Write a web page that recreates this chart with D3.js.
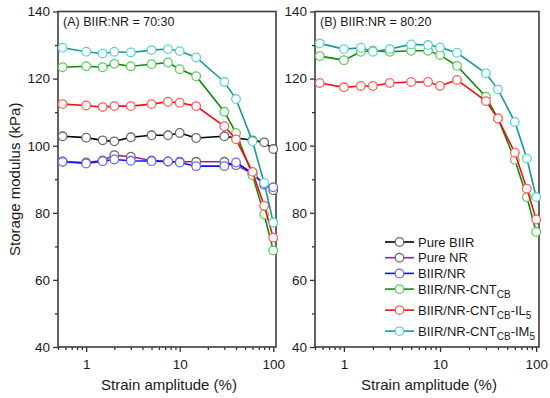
<!DOCTYPE html>
<html>
<head>
<meta charset="utf-8">
<script src="https://cdn.jsdelivr.net/npm/d3@7"></script>
<style>
  body { margin: 0; background: #fff; }
  svg { display: block; font-family: Arial, "Liberation Sans", sans-serif; }
</style>
</head>
<body>
<div id="chart"></div>
<script>
// strain amplitude (%) shared by every curve
const strain = [0.56, 1, 1.5, 2, 3, 5, 7.5, 10, 15, 30, 40, 60, 80, 100];

// (A) BIIR:NR = 70:30, storage modulus kPa
const aPureBIIR = [102.8, 102.4, 101.6, 101.3, 102.5, 103.1, 103.1, 103.8, 102.3, 102.8, null, 101.6, 101.0, 99.0];
const aPureNR = [95.3, 95.0, 95.6, 97.2, 96.7, 95.6, 95.3, 95.2, 95.2, 95.2, 94.2, 91.6, 88.4, 86.7];
const aBlend = [95.2, 94.7, 95.4, 95.9, 95.5, 95.4, 95.3, 95.0, 93.9, 93.9, 95.0, 91.8, 88.5, 87.6];
const aCB = [123.4, 123.7, 123.4, 124.4, 123.7, 124.3, 124.8, 122.8, 120.7, 110.1, 103.8, 91.2, 79.5, 68.8];
const aIL = [112.4, 112.0, 111.5, 111.8, 111.8, 112.4, 113.1, 112.8, 111.8, 105.8, 101.9, 92.2, 82.1, 72.6];
const aIM = [129.2, 128.0, 127.5, 128.0, 127.8, 128.5, 128.8, 128.2, 126.3, 119.0, 113.9, 101.3, 88.9, 77.1];

// (B) BIIR:NR = 80:20
const bCB = [126.7, 125.5, 128.0, 128.3, 128.0, 128.3, 128.3, 127.0, 123.8, 114.6, 108.1, 95.8, 84.7, 74.3];
const bIL = [118.7, 117.4, 117.8, 117.8, 118.7, 119.0, 119.0, 117.8, 119.6, 113.3, 108.1, 97.9, 87.2, 78.0];
const bIM = [130.5, 128.8, 129.2, 128.0, 128.8, 130.2, 130.0, 129.3, 127.7, 121.6, 116.8, 107.1, 96.2, 84.7];

const yMajor = [40, 60, 80, 100, 120, 140];
const yMinor = [50, 70, 90, 110, 130];
const xMajor = [1, 10, 100];

// legend: [main, sub, rest, sub]
const legendNames = [
  ["Pure BIIR"],
  ["Pure NR"],
  ["BIIR/NR"],
  ["BIIR/NR-CNT", "CB"],
  ["BIIR/NR-CNT", "CB", "-IL", "5"],
  ["BIIR/NR-CNT", "CB", "-IM", "5"]
];

const lineColor = ["#000000", "#a0209c", "#1010f0", "#108a10", "#f01010", "#1a9898"];
const markColor = ["#6a6a6a", "#6a6a6a", "#6a6aff", "#5ccc5c", "#ff6060", "#60d2d2"];

const panels = [
  { title: "(A) BIIR:NR = 70:30", x0: 58, x1: 276, series: [aPureBIIR, aPureNR, aBlend, aCB, aIL, aIM] },
  { title: "(B) BIIR:NR = 80:20", x0: 315, x1: 539, series: [null, null, null, bCB, bIL, bIM] }
];

const width = 550, height = 398;
const yTop = 11.5, yBottom = 347;

const svg = d3.select("#chart").append("svg")
  .attr("width", width).attr("height", height);

const y = d3.scaleLinear().domain([40, 140]).range([yBottom, yTop]);

let xMinor = [];
[0.1, 1, 10].forEach(p => { for (let k = 2; k <= 9; k++) xMinor.push(+(k * p).toFixed(2)); });
xMinor = xMinor.filter(v => v >= 0.5 && v <= 107 && !xMajor.includes(v));

panels.forEach((p, pi) => {
  const x = d3.scaleLog().domain([0.5, 107]).range([p.x0, p.x1]);
  const g = svg.append("g");

  // minor ticks
  g.append("g").attr("transform", `translate(${p.x0},0)`)
    .call(d3.axisLeft(y).tickValues(yMinor).tickSize(3).tickFormat(""))
    .call(a => a.select(".domain").remove());
  g.append("g").attr("transform", `translate(0,${yBottom})`)
    .call(d3.axisBottom(x).tickValues(xMinor).tickSize(3).tickFormat(""))
    .call(a => a.select(".domain").remove());

  const ya = g.append("g").attr("transform", `translate(${p.x0},0)`)
    .call(d3.axisLeft(y).tickValues(yMajor).tickSize(5).tickPadding(3))
    .call(a => a.select(".domain").remove());
  ya.selectAll("text").attr("font-size", 13.5).attr("fill", "#1a1a1a");

  const xa = g.append("g").attr("transform", `translate(0,${yBottom})`)
    .call(d3.axisBottom(x).tickValues(xMajor).tickFormat(d3.format("d")).tickSize(5).tickPadding(7))
    .call(a => a.select(".domain").remove());
  xa.selectAll("text").attr("font-size", 13.5).attr("fill", "#1a1a1a");

  svg.selectAll(".tick line").attr("stroke", "#333").attr("stroke-width", 1.3);

  // frame
  g.append("rect")
    .attr("x", p.x0).attr("y", yTop)
    .attr("width", p.x1 - p.x0).attr("height", yBottom - yTop)
    .attr("fill", "none").attr("stroke", "#3c3c3c").attr("stroke-width", 1.6);

  g.append("text").attr("x", p.x0 + 5).attr("y", yTop + 14)
    .attr("font-size", 12.5).attr("fill", "#1a1a1a").text(p.title);

  g.append("text").attr("x", (p.x0 + p.x1) / 2 + 2).attr("y", 390)
    .attr("text-anchor", "middle").attr("font-size", 15).attr("fill", "#1a1a1a")
    .text("Strain amplitude (%)");

  const line = d3.line()
    .defined(d => d[1] != null)
    .x(d => x(d[0])).y(d => y(d[1]));

  p.series.forEach((vals, si) => {
    if (!vals) return;
    const pts = strain.map((s, i) => [s, vals[i]]).filter(d => d[1] != null);
    g.append("path").datum(pts)
      .attr("d", line)
      .attr("fill", "none").attr("stroke", lineColor[si]).attr("stroke-width", 1.6);
    g.selectAll(null).data(pts).join("circle")
      .attr("cx", d => x(d[0])).attr("cy", d => y(d[1]))
      .attr("r", 4.3)
      .attr("fill", "#fff").attr("stroke", markColor[si]).attr("stroke-width", 1.3);
  });
});

svg.append("text")
  .attr("transform", `translate(20,${(yTop + yBottom) / 2}) rotate(-90)`)
  .attr("text-anchor", "middle").attr("font-size", 15).attr("fill", "#1a1a1a")
  .text("Storage modulus (kPa)");

// legend
const lg = svg.append("g").attr("transform", "translate(385,0)");
let ly = 242;
legendNames.forEach((parts, i) => {
  const row = lg.append("g").attr("transform", `translate(0,${ly})`);
  row.append("line").attr("x1", 0).attr("x2", 29).attr("y1", 0).attr("y2", 0)
    .attr("stroke", lineColor[i]).attr("stroke-width", 1.6);
  row.append("circle").attr("cx", 14.5).attr("cy", 0).attr("r", 4.3)
    .attr("fill", "#fff").attr("stroke", markColor[i]).attr("stroke-width", 1.3);
  const t = row.append("text").attr("x", 33).attr("y", 4.5)
    .attr("font-size", 13).attr("fill", "#1a1a1a");
  parts.forEach((s, k) => {
    const ts = t.append("tspan").text(s);
    if (k % 2 === 1) ts.attr("font-size", 10).attr("dy", 4);
    else if (k > 0) ts.attr("dy", -4);
  });
  ly += parts.length > 1 ? 21 : 15.7;
});
</script>
</body>
</html>
